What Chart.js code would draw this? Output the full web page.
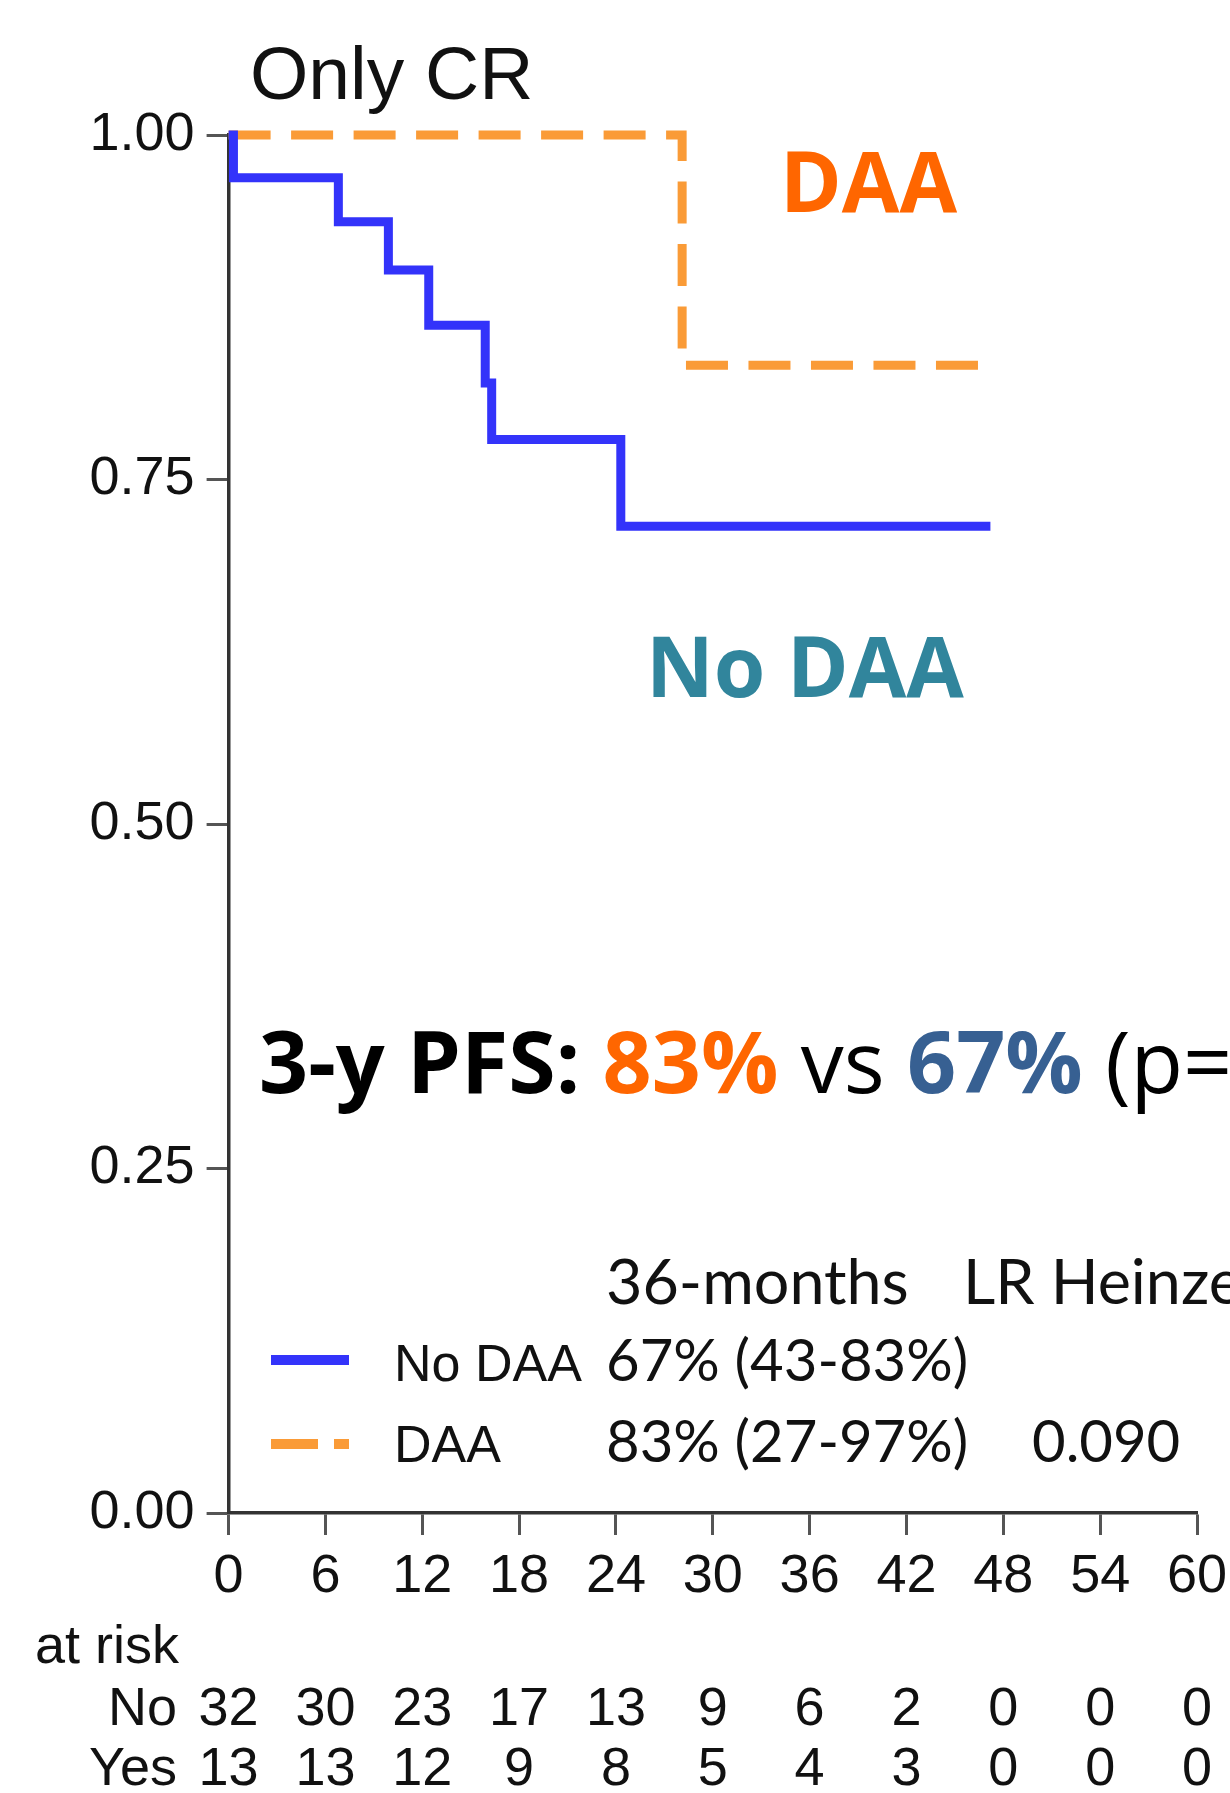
<!DOCTYPE html>
<html>
<head>
<meta charset="utf-8">
<script src="https://cdn.jsdelivr.net/npm/chart.js@4.4.1/dist/chart.umd.min.js"></script>
<style>
  body { margin: 0; background: #fff; }
  #wrap { width: 1230px; height: 1793px; position: relative; }
</style>
</head>
<body>
<div id="wrap"><canvas id="kmChart"></canvas></div>
<script>
// Kaplan-Meier steps: months vs. proportion progression-free
var noDaaTime = [0, 0.3, 6.8, 9.9, 12.4, 15.9, 16.3, 24.3, 47.2];
var noDaaSurv = [1.0, 0.969, 0.937, 0.902, 0.862, 0.820, 0.779, 0.716, 0.716];
var daaTime = [0, 28.1, 46.6];
var daaSurv = [1.0, 0.833, 0.833];

// numbers at risk under the x axis
var riskTimes = [0, 6, 12, 18, 24, 30, 36, 42, 48, 54, 60];
var atRiskNo = [32, 30, 23, 17, 13, 9, 6, 2, 0, 0, 0];
var atRiskYes = [13, 13, 12, 9, 8, 5, 4, 3, 0, 0, 0];

var legendHeader = ["36-months", "LR Heinze"];
var legendRows = [
  ["No DAA", "67% (43-83%)", ""],
  ["DAA", "83% (27-97%)", "0.090"]
];

var BLUE = "rgb(51,51,250)";
var ORANGE = "rgb(250,155,55)";
var ARIAL = '"Liberation Sans", Arial, sans-serif';
var CALI = '"Open Sans", "Noto Sans", sans-serif';
var CALI_LIGHT = 'Lato, "Open Sans", sans-serif';

function toPoints(t, s) {
  return t.map(function(v, i){ return {x: v, y: s[i]}; });
}

// font string sized so that `text` spans `width` pixels
function fitFont(ctx, text, weight, family, width) {
  ctx.font = weight + ' 100px ' + family;
  var w = ctx.measureText(text).width;
  return weight + ' ' + (100 * width / w).toFixed(1) + 'px ' + family;
}

// draw a row of differently styled pieces of text one after another
function textRuns(ctx, x, y, parts) {
  parts.forEach(function(p){
    ctx.font = p[1];
    ctx.fillStyle = p[2];
    ctx.fillText(p[0], x, y);
    x += ctx.measureText(p[0]).width;
  });
}

var annotations = {
  id: 'annotations',
  afterDraw: function(chart) {
    var ctx = chart.ctx, xs = chart.scales.x;
    ctx.save();
    ctx.textBaseline = 'alphabetic';
    ctx.textAlign = 'left';

    ctx.font = '75px ' + ARIAL;
    ctx.fillStyle = '#111';
    ctx.fillText('Only CR', 250, 99);

    ctx.font = fitFont(ctx, 'DAA', 'bold', CALI, 177);
    ctx.fillStyle = '#ff6600';
    ctx.fillText('DAA', 780, 212);

    ctx.font = fitFont(ctx, 'No DAA', 'bold', CALI, 318);
    ctx.fillStyle = '#31859c';
    ctx.fillText('No DAA', 646, 697);

    textRuns(ctx, 259, 1093, [
      ['3-y PFS: ', 'bold 86px ' + CALI, '#000'],
      ['83%', 'bold 86px ' + CALI, '#ff6600'],
      [' vs ', '86px ' + CALI, '#000'],
      ['67%', 'bold 86px ' + CALI, '#376092'],
      [' (p=', '86px ' + CALI, '#000']
    ]);

    // legend block with 36-month estimates
    ctx.fillStyle = '#111';
    ctx.font = fitFont(ctx, legendHeader[0], 'normal', CALI_LIGHT, 303);
    ctx.fillText(legendHeader[0], 606, 1304);
    ctx.fillText(legendHeader[1], 963, 1304);

    var rowY = [1381, 1462];
    var estFont = fitFont(ctx, legendRows[0][1], 'normal', CALI_LIGHT, 362);
    legendRows.forEach(function(r, i){
      ctx.font = '52px ' + ARIAL;
      ctx.fillText(r[0], 394, rowY[i]);
      ctx.font = estFont;
      ctx.fillText(r[1], 606, rowY[i]);
      if (r[2]) ctx.fillText(r[2], 1032, rowY[i]);
    });

    ctx.lineCap = 'butt';
    ctx.lineWidth = 10;
    ctx.strokeStyle = BLUE;
    ctx.beginPath(); ctx.moveTo(271, 1360); ctx.lineTo(349, 1360); ctx.stroke();
    ctx.strokeStyle = ORANGE;
    ctx.setLineDash([47, 16]);
    ctx.beginPath(); ctx.moveTo(271, 1444); ctx.lineTo(349, 1444); ctx.stroke();
    ctx.setLineDash([]);

    // at-risk table
    ctx.font = '54px ' + ARIAL;
    ctx.fillText('at risk', 35, 1663);
    ctx.textAlign = 'right';
    ctx.fillText('No', 177, 1725);
    ctx.fillText('Yes', 177, 1785);
    ctx.textAlign = 'center';
    riskTimes.forEach(function(t, i){
      var px = xs.getPixelForValue(t);
      ctx.fillText(String(atRiskNo[i]), px, 1725);
      ctx.fillText(String(atRiskYes[i]), px, 1785);
    });
    ctx.restore();
  }
};

new Chart(document.getElementById('kmChart'), {
  type: 'line',
  data: {
    datasets: [
      {
        label: 'No DAA',
        data: toPoints(noDaaTime, noDaaSurv),
        borderColor: BLUE,
        borderWidth: 9,
        stepped: true,
        pointRadius: 0,
        fill: false,
        clip: false
      },
      {
        label: 'DAA',
        data: toPoints(daaTime, daaSurv),
        borderColor: ORANGE,
        borderWidth: 9,
        borderDash: [42, 20.5],
        borderCapStyle: 'butt',
        borderJoinStyle: 'miter',
        stepped: true,
        pointRadius: 0,
        fill: false,
        clip: false
      }
    ]
  },
  options: {
    responsive: true,
    maintainAspectRatio: false,
    animation: false,
    layout: { padding: { top: 135, right: 33, left: 0, bottom: 0 } },
    plugins: {
      legend: { display: false },
      tooltip: { enabled: false },
      title: { display: false }
    },
    scales: {
      x: {
        type: 'linear',
        min: 0,
        max: 60,
        afterFit: function(s){
          s.height = 280;
          s.paddingLeft = 0;
          s.paddingRight = 0;
        },
        ticks: {
          stepSize: 6,
          color: '#111',
          padding: 10,
          font: { family: ARIAL, size: 54 }
        },
        grid: { drawOnChartArea: false, tickLength: 22, tickWidth: 3, tickColor: '#555' },
        border: { display: true, width: 3.5, color: '#333' }
      },
      y: {
        min: 0,
        max: 1,
        afterFit: function(s){ s.width = 228.6; },
        ticks: {
          stepSize: 0.25,
          color: '#111',
          padding: 12,
          font: { family: ARIAL, size: 54 },
          callback: function(v){ return v.toFixed(2); }
        },
        grid: { drawOnChartArea: false, tickLength: 22, tickWidth: 3, tickColor: '#555' },
        border: { display: true, width: 3.5, color: '#333' }
      }
    }
  },
  plugins: [annotations]
});
</script>
</body>
</html>
